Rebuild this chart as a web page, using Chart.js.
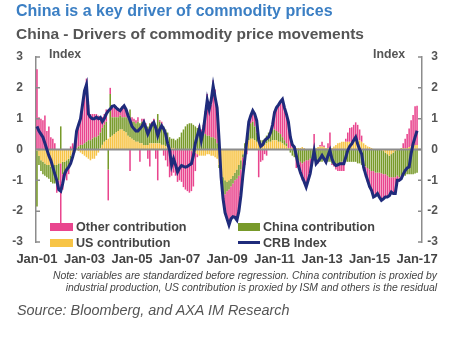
<!DOCTYPE html>
<html>
<head>
<meta charset="utf-8">
<script src="https://cdn.jsdelivr.net/npm/chart.js@4.4.1/dist/chart.umd.min.js"></script>
<style>
  html, body { margin: 0; padding: 0; background: #fff; }
  #wrap { position: relative; width: 471px; height: 338px; overflow: hidden;
          font-family: "Liberation Sans", Arial, Helvetica, sans-serif; }
  #chart { position: absolute; left: 0; top: 0; }
  .t { position: absolute; white-space: nowrap; }
  .sw { position: absolute; }
  #title { left: 16px; top: 3px; font-size: 16px; line-height: 16px; font-weight: bold; color: #3b7fc4; }
  #subtitle { left: 16px; top: 26px; font-size: 15.5px; line-height: 15.5px; font-weight: bold; color: #555; }
  .idx { top: 48px; font-size: 12.3px; line-height: 12.3px; font-weight: bold; color: #555; }
  .leg { font-size: 12.6px; line-height: 12.6px; font-weight: bold; color: #444; }
  .note { right: 34px; font-size: 10.4px; line-height: 12px; font-style: italic; color: #444; }
  #source { left: 17px; top: 303px; font-size: 14.4px; line-height: 14.4px; font-style: italic; color: #555; }
</style>
</head>
<body>
<div id="wrap">
  <canvas id="chart" width="471" height="338"></canvas>
  <div class="t" id="title">China is a key driver of commodity prices</div>
  <div class="t" id="subtitle">China - Drivers of commodity price movements</div>
  <div class="t idx" style="left:49px">Index</div>
  <div class="t idx" style="left:373px">Index</div>

  <div class="sw" style="left:50px;top:223px;width:23px;height:8px;background:#e9458e"></div>
  <div class="t leg" style="left:76px;top:221px">Other contribution</div>
  <div class="sw" style="left:50px;top:239px;width:23px;height:8px;background:#f7c446"></div>
  <div class="t leg" style="left:76px;top:236.5px">US contribution</div>
  <div class="sw" style="left:238px;top:223px;width:22px;height:8px;background:#789a2a"></div>
  <div class="t leg" style="left:263px;top:221px">China contribution</div>
  <div class="sw" style="left:238px;top:240.5px;width:22px;height:3px;background:#1f2b7b"></div>
  <div class="t leg" style="left:263px;top:236.5px">CRB Index</div>

  <div class="t note" style="top:269.5px">Note: variables are standardized before regression. China contribution is proxied by</div>
  <div class="t note" style="top:281.5px">industrial production, US contribution is proxied by ISM and others is the residual</div>
  <div class="t" id="source">Source: Bloomberg, and AXA IM Research</div>
</div>

<script>
// Monthly data, Jan-01 .. Jan-17 (one row per year)
const years = ["01", "02", "03", "04", "05", "06", "07", "08", "09", "10", "11", "12", "13", "14", "15", "16", "17"];
const monthNames = ["Jan", "Feb", "Mar", "Apr", "May", "Jun", "Jul", "Aug", "Sep", "Oct", "Nov", "Dec"];
const tickLabels = ["Jan-01", "Jan-03", "Jan-05", "Jan-07", "Jan-09", "Jan-11", "Jan-13", "Jan-15", "Jan-17"];
const yTicks = [-3, -2, -1, 0, 1, 2, 3];

// US contribution (yellow)
const usContribution = [
  -0.05, -0.2, -0.35, -0.4, -0.45, -0.5, -0.5, -0.55, -0.55, -0.5, -0.5, -0.45,
  -0.45, -0.4, -0.4, -0.35, -0.3, -0.2, -0.1, -0.05, 0.0, -0.05, -0.1, -0.15,
  -0.2, -0.25, -0.3, -0.35, -0.3, -0.3, -0.2, -0.1, 0.05, 0.15, 0.25, 0.3,
  0.35, 0.4, 0.45, 0.5, 0.55, 0.6, 0.65, 0.65, 0.6, 0.55, 0.45, 0.4,
  0.35, 0.3, 0.25, 0.25, 0.2, 0.2, 0.15, 0.15, 0.15, 0.2, 0.2, 0.2,
  0.2, 0.2, 0.2, 0.15, 0.15, 0.1, 0.1, 0.05, 0.05, 0.05, 0.0, 0.0,
  0.0, 0.0, -0.02, 0.0, 0.02, 0.0, -0.05, -0.1, -0.1, -0.15, -0.2, -0.2,
  -0.2, -0.2, -0.15, -0.15, -0.2, -0.2, -0.25, -0.3, -0.5, -0.7, -0.9, -1.0,
  -1.05, -1.0, -0.95, -0.85, -0.75, -0.65, -0.5, -0.35, -0.15, 0.05, 0.2, 0.3,
  0.35, 0.35, 0.3, 0.25, 0.2, 0.15, 0.15, 0.15, 0.2, 0.25, 0.25, 0.3,
  0.3, 0.3, 0.25, 0.25, 0.2, 0.15, 0.1, 0.05, 0.05, 0.05, 0.05, 0.05,
  0.05, 0.05, 0.08, 0.05, 0.02, 0.0, 0.0, 0.0, 0.05, 0.05, 0.08, 0.1,
  0.1, 0.08, 0.05, 0.05, 0.05, 0.05, 0.1, 0.15, 0.2, 0.22, 0.25, 0.25,
  0.25, 0.25, 0.25, 0.22, 0.25, 0.28, 0.3, 0.3, 0.25, 0.2, 0.15, 0.1,
  0.08, 0.05, 0.02, 0.0, 0.0, 0.0, -0.02, -0.05, -0.1, -0.15, -0.2, -0.15,
  -0.1, -0.05, 0.0, 0.0, 0.05, 0.05, 0.05, 0.05, 0.08, 0.1, 0.12, 0.15,
  0.15
];

// China contribution (green)
const chinaContribution = [
  -1.8, -0.3, -0.35, -0.4, -0.4, -0.4, -0.45, -0.5, -0.55, -0.6, -0.6, -0.55,
  0.75, -0.4, -0.35, -0.35, -0.3, -0.25, -0.15, -0.05, 0.05, 0.1, 0.15, 0.15,
  0.2, 0.25, 0.3, 0.3, 0.35, 0.4, 0.4, 0.45, 0.5, 0.55, 0.55, 0.6,
  -0.65, 1.4, 0.6, 0.55, 0.5, 0.45, 0.45, 0.4, 0.45, 0.5, 0.55, 0.9,
  0.55, 0.6, 0.6, 0.65, 0.65, 0.7, 0.7, 0.65, 0.6, 0.65, 0.6, 0.65,
  0.6, 0.95, 0.7, 0.65, 0.6, 0.55, 0.45, 0.35, 0.3, 0.3, 0.3, 0.35,
  0.4, 0.55, 0.65, 0.75, 0.8, 0.85, 0.85, 0.8, 0.75, 0.7, 0.6, 0.55,
  0.5, 0.5, 0.45, 0.45, 0.4, 0.4, 0.35, 0.2, -0.1, -0.3, -0.5, -0.45,
  -0.3, -0.3, -0.25, -0.25, -0.25, -0.3, -0.35, -0.3, -0.1, 0.15, 0.3, 0.4,
  0.5, 0.55, 0.45, 0.3, 0.2, 0.15, 0.15, 0.2, 0.25, 0.3, 0.35, 0.35,
  0.35, 0.3, 0.3, 0.25, 0.2, 0.15, 0.1, 0.0, -0.1, -0.2, -0.25, -0.3,
  -0.35, -0.4, -0.45, -0.4, -0.35, -0.35, -0.3, -0.3, -0.35, -0.35, -0.4, -0.4,
  -0.4, -0.35, -0.35, -0.4, -0.4, -0.45, -0.45, -0.45, -0.5, -0.45, -0.4, -0.4,
  -0.4, -0.4, -0.4, -0.4, -0.4, -0.4, -0.45, -0.45, -0.5, -0.5, -0.55, -0.6,
  -0.65, -0.7, -0.7, -0.75, -0.75, -0.75, -0.75, -0.75, -0.7, -0.7, -0.7, -0.75,
  -0.8, -0.85, -0.85, -0.9, -0.85, -0.85, -0.85, -0.8, -0.8, -0.8, -0.8, -0.78,
  -0.75
];

// Other contribution (pink)
const otherContribution = [
  2.6, 1.05, 1.0, 0.95, 1.1, 0.6, 0.75, 0.4, 0.35, 0.2, -0.3, -0.35,
  -2.1, -0.5, -0.1, -0.3, -0.2, 0.1, 0.2, 0.15, 0.55, 0.7, 0.8, 1.3,
  1.6, 2.05, 1.15, 0.85, 0.8, 0.75, 0.75, 0.65, 0.5, 0.35, 0.35, 0.4,
  -1.0, 0.2, 0.35, 0.3, 0.35, 0.3, 0.2, 0.35, 0.35, 0.25, 0.1, -0.7,
  0.15, 0.1, 0.1, 0.15, -0.4, 0.1, 0.15, 0.05, -0.3, -0.55, 0.1, 0.15,
  -0.3, -1.0, 0.05, 0.1, -0.2, -0.35, -0.55, -0.9, -0.85, -0.75, -0.85, -1.05,
  -1.0, -1.05, -1.2, -1.3, -1.35, -1.4, -1.3, -1.1, -0.6, -0.1, 0.2, 0.1,
  0.3, 0.75, 1.35, 1.1, 1.05, 1.85, 1.6, 1.25, 0.4, -0.1, -0.3, -0.6,
  -0.85, -1.15, -1.1, -1.08, -1.2, -1.34, -1.15, -0.85, -0.65, -0.5, -0.15, 0.25,
  0.3, 0.35, 0.45, 0.35, -0.9, -0.4, -0.35, -0.15, -0.2, 0.0, 0.05, 0.15,
  0.6, 0.76, 0.9, 1.05, 1.2, 1.06, 0.9, 0.85, 0.4, 0.15, 0.0, -0.3,
  -0.2, -0.4, -0.55, -0.7, -0.85, -0.65, -0.45, -0.1, 0.45, -0.1, -0.05, 0.05,
  0.15, 0.05, -0.1, 0.15, 0.5, -0.05, -0.1, -0.2, -0.2, -0.25, -0.3, -0.3,
  0.1, 0.3, 0.45, 0.5, 0.55, 0.6, 0.5, 0.35, 0.2, -0.2, -0.35, -0.45,
  -0.6, -0.65, -0.85, -0.75, -0.7, -0.8, -0.9, -0.8, -0.75, -0.7, -0.6, -0.5,
  -0.55, -0.5, -0.2, -0.15, -0.1, 0.15, 0.3, 0.45, 0.6, 0.85, 1.0, 1.25,
  1.27
];

// CRB Index (line)
const crbIndex = [
  0.75, 0.6, 0.5, 0.4, 0.2, 0.0, -0.2, -0.35, -0.57, -0.8, -1.0, -1.3,
  -1.35, -1.1, -0.78, -0.65, -0.57, -0.45, -0.25, 0.0, 0.6, 0.8, 1.0, 1.45,
  1.9, 2.1, 1.15, 1.05, 1.0, 1.0, 1.05, 1.0, 1.04, 0.9, 1.0, 1.15,
  1.25, 1.31, 1.4, 1.42, 1.35, 1.3, 1.26, 1.35, 1.42, 1.3, 1.1, 0.94,
  0.75, 0.67, 0.6, 0.6, 0.67, 0.75, 0.88, 0.7, 0.5, 0.65, 0.8, 0.88,
  0.7, 0.45, 0.65, 0.77, 0.67, 0.5, 0.2, -0.03, -0.52, -0.3, -0.5, -0.73,
  -0.6, -0.52, -0.55, -0.57, -0.55, -0.5, -0.46, -0.2, 0.2, 0.45, 0.67, 0.29,
  0.6, 1.1, 1.6, 1.3, 1.6, 2.06, 1.69, 1.35, 0.3, -0.9, -1.6, -2.05,
  -2.25, -2.45, -2.25, -2.18, -2.2, -2.29, -2.0, -1.5, -0.85, -0.3, 0.3, 0.9,
  1.1, 1.26, 1.15, 0.94, 0.3, 0.1, 0.15, 0.29, 0.35, 0.4, 0.55, 0.8,
  1.2, 1.36, 1.45, 1.55, 1.63, 1.36, 1.15, 0.9, 0.4, 0.15, 0.08, -0.2,
  -0.52, -0.73, -0.9, -1.05, -1.22, -1.0, -0.78, -0.4, -0.05, -0.46, -0.38, -0.3,
  -0.19, -0.3, -0.41, -0.2, -0.03, -0.3, -0.45, -0.52, -0.5, -0.46, -0.46, -0.46,
  -0.25, -0.03, 0.1, 0.18, 0.3, 0.4, 0.18, 0.0, -0.14, -0.57, -0.8, -1.0,
  -1.2, -1.32, -1.54, -1.5, -1.43, -1.55, -1.65, -1.6, -1.54, -1.54, -1.5, -1.38,
  -1.43, -1.43, -1.0, -1.0, -0.95, -0.8, -0.68, -0.6, -0.57, -0.14, 0.18, 0.4,
  0.61
];

// Build month categories (two empty months after Jan-17 keep the right margin)
const categories = [];
years.forEach(yy => monthNames.forEach(m => categories.push(m + "-" + yy)));
categories.length = crbIndex.length;
categories.push("Feb-17", "Mar-17");

const FONT = "'Liberation Sans', Arial, Helvetica, sans-serif";
const AXIS_GREY = "#8c8c8c";

// zero line under the CRB line, small inward tick marks on both axes
const axisDecor = {
  id: "axisDecor",
  beforeDatasetDraw(chart, args) {
    if (args.index !== 3) return;
    const { ctx, chartArea: a, scales: { y } } = chart;
    const y0 = y.getPixelForValue(0);
    ctx.save();
    ctx.strokeStyle = AXIS_GREY;
    ctx.lineWidth = 2;
    ctx.beginPath();
    ctx.moveTo(a.left, y0);
    ctx.lineTo(a.right, y0);
    ctx.stroke();
    ctx.restore();
  },
  afterDraw(chart) {
    const { ctx, chartArea: a, scales: { y } } = chart;
    ctx.save();
    ctx.strokeStyle = AXIS_GREY;
    ctx.lineWidth = 1.5;
    yTicks.forEach(v => {
      const py = y.getPixelForValue(v);
      ctx.beginPath();
      ctx.moveTo(a.left, py);
      ctx.lineTo(a.left + 4, py);
      ctx.moveTo(a.right, py);
      ctx.lineTo(a.right - 4, py);
      ctx.stroke();
    });
    ctx.restore();
  }
};

const yTickFont = { family: FONT, size: 12, weight: "bold" };

new Chart(document.getElementById("chart"), {
  type: "bar",
  data: {
    labels: categories,
    datasets: [
      { label: "US contribution", data: usContribution, backgroundColor: "#f7c446",
        stack: "bars", order: 1, barPercentage: 0.78, categoryPercentage: 1.0 },
      { label: "China contribution", data: chinaContribution, backgroundColor: "#789a2a",
        stack: "bars", order: 1, barPercentage: 0.78, categoryPercentage: 1.0 },
      { label: "Other contribution", data: otherContribution, backgroundColor: "#e9458e",
        stack: "bars", order: 1, barPercentage: 0.78, categoryPercentage: 1.0 },
      { type: "line", label: "CRB Index", data: crbIndex, borderColor: "#1f2b7b",
        borderWidth: 3, pointRadius: 0, tension: 0, stack: "crb", order: 0, fill: false }
    ]
  },
  options: {
    responsive: false,
    animation: false,
    devicePixelRatio: 1,
    layout: { padding: { top: 57, bottom: 66, left: 0, right: 33 } },
    plugins: { legend: { display: false }, tooltip: { enabled: false } },
    scales: {
      x: {
        stacked: true,
        offset: true,
        grid: { display: false, drawTicks: false },
        border: { display: false },
        ticks: {
          autoSkip: false, maxRotation: 0, minRotation: 0, padding: 10,
          color: "#444", font: { family: FONT, size: 13, weight: "bold" },
          callback: (v, i) => (i % 24 === 0 ? tickLabels[i / 24] : "")
        },
        afterFit: s => { s.height = 30; }
      },
      y: {
        position: "left",
        stacked: true,
        min: -3, max: 3,
        grid: { display: false, drawTicks: false },
        border: { display: true, color: AXIS_GREY, width: 1.5 },
        ticks: { stepSize: 1, padding: 13, color: "#555", font: yTickFont,
                 callback: v => String(v) },
        afterFit: s => { s.width = 36; }
      },
      y2: {
        position: "right",
        min: -3, max: 3,
        grid: { display: false, drawTicks: false },
        border: { display: true, color: AXIS_GREY, width: 1.5 },
        ticks: { stepSize: 1, padding: 5, crossAlign: "far", color: "#555", font: yTickFont,
                 callback: v => String(v) },
        afterFit: s => { s.width = 16; }
      }
    }
  },
  plugins: [axisDecor]
});
</script>
</body>
</html>
